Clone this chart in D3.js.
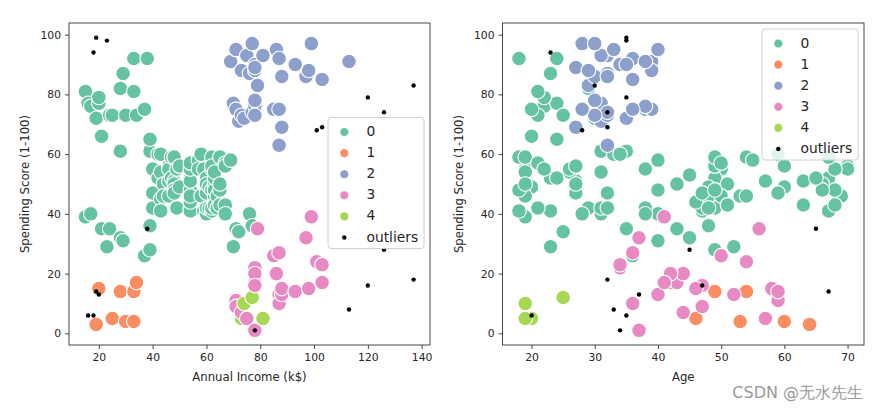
<!DOCTYPE html>
<html>
<head>
<meta charset="utf-8">
<script src="https://cdn.jsdelivr.net/npm/d3@7/dist/d3.min.js"></script>
<style>
  html, body { margin: 0; padding: 0; background: #fff; }
  svg { display: block; }
  text { font-family: "DejaVu Sans", sans-serif; }
</style>
</head>
<body>
<svg id="chart" width="880" height="412"></svg>
<script>
// ---- data (Mall customers) ----
const age = [
19,21,20,23,31,22,35,23,64,30, 67,35,58,24,37,22,35,20,52,35,
35,25,46,31,54,29,45,35,40,23, 60,21,53,18,49,21,42,30,36,20,
65,24,48,31,49,24,50,27,29,31, 49,33,31,59,50,47,51,69,27,53,
70,19,67,54,63,18,43,68,19,32, 70,47,60,60,59,26,45,40,23,49,
57,38,67,46,21,48,55,22,34,50, 68,18,48,40,32,24,47,27,48,20,
23,49,67,26,49,21,66,54,68,66, 65,19,38,19,18,19,63,49,51,50,
27,38,40,39,23,31,43,40,59,38, 47,39,25,31,20,29,44,32,19,35,
57,32,28,32,25,28,48,32,34,34, 43,39,44,38,47,27,37,30,34,30,
56,29,19,31,50,36,42,33,36,32, 40,28,36,36,52,30,58,27,59,35,
37,32,46,29,41,30,54,28,41,36, 34,32,33,38,47,35,45,32,32,30
];
const income = [
15,15,16,16,17,17,18,18,19,19, 19,19,20,20,20,20,21,21,23,23,
24,24,25,25,28,28,28,28,29,29, 30,30,33,33,33,33,34,34,37,37,
38,38,39,39,39,39,40,40,40,40, 42,42,43,43,43,43,44,44,46,46,
46,46,47,47,48,48,48,48,48,48, 49,49,50,50,54,54,54,54,54,54,
54,54,54,54,54,54,57,57,58,58, 59,59,60,60,60,60,60,60,61,61,
62,62,62,62,62,62,63,63,63,63, 63,63,64,64,65,65,65,65,67,67,
67,67,69,69,70,70,71,71,71,71, 71,71,72,72,73,73,73,73,74,74,
75,75,76,76,77,77,77,77,78,78, 78,78,78,78,78,78,78,78,78,78,
79,79,81,81,85,85,86,86,87,87, 87,87,87,87,88,88,88,88,93,93,
97,97,98,98,99,99,101,101,103,103, 103,103,113,113,120,120,126,126,137,137
];
const score = [
39,81,6,77,40,76,6,94,3,72, 14,99,15,77,13,79,35,66,29,98,
35,73,5,73,14,82,32,61,31,87, 4,73,4,92,14,81,17,73,26,75,
35,92,36,61,28,65,55,47,42,42, 52,60,54,60,45,41,50,46,51,46,
56,55,52,59,51,59,50,48,59,47, 55,42,49,56,47,54,53,48,52,42,
51,55,41,44,57,46,58,55,60,46, 55,41,49,40,42,52,47,50,42,49,
41,48,59,55,56,42,50,46,43,48, 52,54,42,46,48,50,43,59,43,57,
56,40,58,91,29,77,35,95,11,75, 9,75,34,71,5,88,7,73,10,72,
5,93,40,87,12,97,36,74,22,90, 17,88,20,76,16,89,1,78,1,73,
35,83,5,93,26,75,20,95,27,63, 13,75,10,92,13,86,15,69,14,90,
32,86,15,88,39,97,24,68,17,85, 23,69,8,91,16,79,28,74,18,83
];
// cluster label per customer, -1 = outlier
const cluster = [
0,0,-1,0,0,0,-1,-1,1,0, -1,-1,1,0,-1,0,0,0,0,-1,
0,0,1,0,1,0,0,0,0,0, 1,0,1,0,1,0,1,0,0,0,
-1,0,0,0,0,0,0,0,0,0, 0,0,0,0,0,0,0,0,0,0,
0,0,0,0,0,0,0,0,0,0, 0,0,0,0,0,0,0,0,0,0,
0,0,0,0,0,0,0,0,0,0, 0,0,0,0,0,0,0,0,0,0,
0,0,0,0,0,0,0,0,0,0, 0,0,0,0,0,0,0,0,0,0,
0,0,0,2,0,2,0,2,3,2, 3,2,0,2,4,2,3,2,4,2,
3,2,0,2,4,2,0,2,3,2, 3,2,3,2,3,2,3,2,-1,2,
3,2,4,2,3,2,3,2,3,2, 3,2,3,2,3,2,3,2,3,2,
3,2,3,2,3,2,3,-1,3,2, 3,-1,-1,2,-1,-1,-1,-1,-1,-1
];
const clusterNames = ["0", "1", "2", "3", "4"];
const legendLabels = ["0", "1", "2", "3", "4", "outliers"];
const incomeTicks = [20, 40, 60, 80, 100, 120, 140];
const ageTicks = [20, 30, 40, 50, 60, 70];
const scoreTicks = [0, 20, 40, 60, 80, 100];

const palette = ["#66c2a5", "#fc8d62", "#8da0cb", "#e78ac3", "#a6d854"];
const color = d3.scaleOrdinal().domain(clusterNames).range(palette);

const rows = age.map((a, i) => ({ age: a, income: income[i], score: score[i], c: cluster[i] }));

const svg = d3.select("#chart");
svg.append("rect").attr("width", 880).attr("height", 412).attr("fill", "#fff");

function pad(ext) { const r = ext[1] - ext[0]; return [ext[0] - 0.05 * r, ext[1] + 0.05 * r]; }

function panel(opts) {
  const { x0, x1, y0, y1, key, ticks, xlabel, legendBox } = opts;
  const g = svg.append("g");
  const x = d3.scaleLinear().domain(pad(d3.extent(rows, d => d[key]))).range([x0, x1]);
  const y = d3.scaleLinear().domain(pad(d3.extent(rows, d => d.score))).range([y1, y0]);

  // points (clusters, in data order)
  g.append("g").selectAll("circle")
    .data(rows.filter(d => d.c >= 0))
    .join("circle")
    .attr("cx", d => x(d[key])).attr("cy", d => y(d.score))
    .attr("r", 7.3)
    .attr("fill", d => color(String(d.c)))
    .attr("stroke", "#fff").attr("stroke-width", 1.1);

  // outliers
  g.append("g").selectAll("circle")
    .data(rows.filter(d => d.c < 0))
    .join("circle")
    .attr("cx", d => x(d[key])).attr("cy", d => y(d.score))
    .attr("r", 2.2).attr("fill", "#000");

  // axes
  const xa = g.append("g").attr("transform", `translate(0,${y1})`)
    .call(d3.axisBottom(x).tickValues(ticks).tickSize(4).tickPadding(4).tickFormat(d3.format("d")));
  const ya = g.append("g").attr("transform", `translate(${x0},0)`)
    .call(d3.axisLeft(y).tickValues(scoreTicks).tickSize(4).tickPadding(4).tickFormat(d3.format("d")));
  [xa, ya].forEach(a => {
    a.select(".domain").remove();
    a.selectAll("line").attr("stroke", "#333").attr("stroke-width", 0.9);
    a.selectAll("text").attr("font-size", 10.8).attr("fill", "#262626")
      .attr("font-family", "DejaVu Sans");
  });

  // frame
  g.append("rect").attr("x", x0).attr("y", y0).attr("width", x1 - x0).attr("height", y1 - y0)
    .attr("fill", "none").attr("stroke", "#333").attr("stroke-width", 0.9);

  // labels
  g.append("text").attr("x", (x0 + x1) / 2).attr("y", 381)
    .attr("text-anchor", "middle").attr("font-size", 11.7).attr("fill", "#262626").text(xlabel);
  g.append("text").attr("transform", `translate(${x0 - 40},${(y0 + y1) / 2}) rotate(-90)`)
    .attr("text-anchor", "middle").attr("font-size", 11.7).attr("fill", "#262626")
    .text("Spending Score (1-100)");

  // legend
  const lg = g.append("g");
  lg.append("rect").attr("x", legendBox.x).attr("y", legendBox.y).attr("width", 96).attr("height", 131)
    .attr("rx", 3).attr("fill", "#fff").attr("fill-opacity", 0.8)
    .attr("stroke", "#d0d0d0").attr("stroke-width", 1);
  legendLabels.forEach((lab, i) => {
    const my = legendBox.y + 14.5 + i * 21.1;
    const isOut = i === legendLabels.length - 1;
    lg.append("circle").attr("cx", legendBox.x + 16.3).attr("cy", my)
      .attr("r", isOut ? 2.2 : 4.3)
      .attr("fill", isOut ? "#000" : color(lab))
      .attr("stroke", isOut ? "none" : "#fff").attr("stroke-width", 0.4);
    lg.append("text").attr("x", legendBox.x + 38.5).attr("y", my + 4)
      .attr("font-size", 13.8).attr("fill", "#262626").text(lab);
  });
}

panel({ x0: 69, x1: 430, y0: 23, y1: 345, key: "income", ticks: incomeTicks,
        xlabel: "Annual Income (k$)", legendBox: { x: 328, y: 117.5 } });
panel({ x0: 502.5, x1: 864, y0: 23, y1: 345, key: "age", ticks: ageTicks,
        xlabel: "Age", legendBox: { x: 762, y: 29 } });

svg.append("text").attr("x", 863).attr("y", 398).attr("text-anchor", "end")
  .attr("font-family", "'Liberation Sans', 'Noto Sans CJK SC', sans-serif")
  .attr("font-size", 16).attr("fill", "#9a9a9a").text("CSDN @无水先生");
</script>
</body>
</html>
